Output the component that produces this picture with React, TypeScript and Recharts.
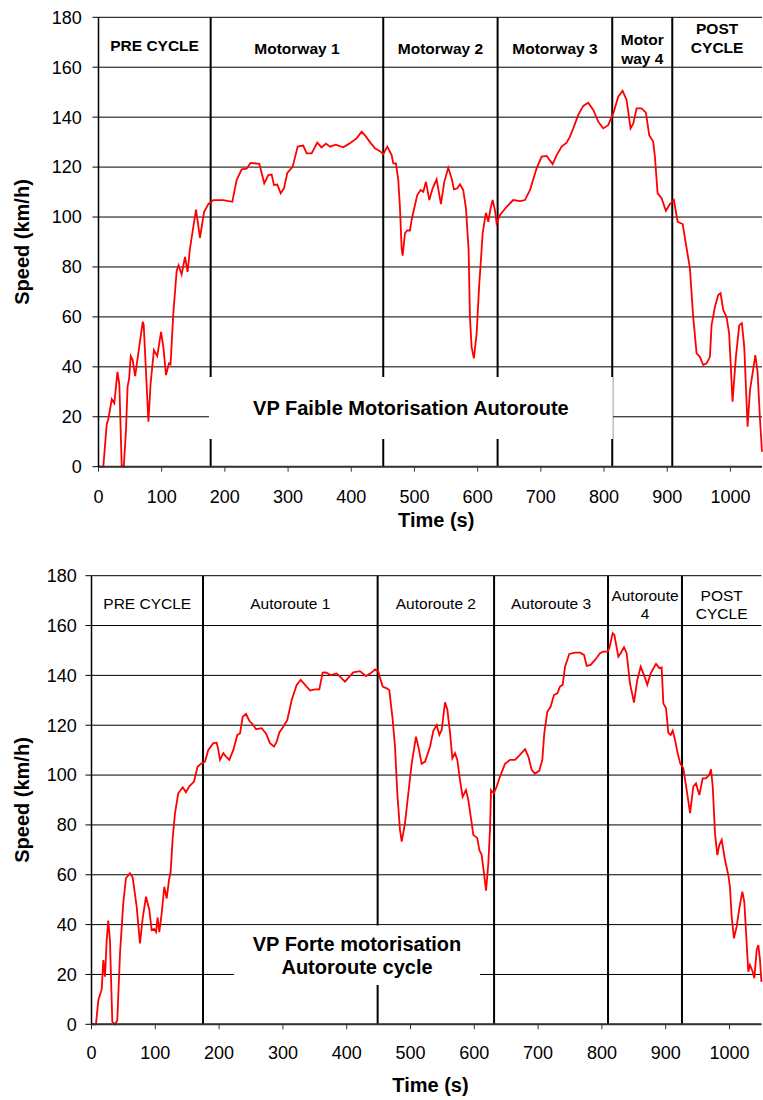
import React from 'react';
import {
  LineChart,
  Line,
  XAxis,
  YAxis,
  CartesianGrid,
  ReferenceLine,
  ReferenceArea,
  Label,
} from 'recharts';

const FONT = '"Liberation Sans", Arial, Helvetica, sans-serif';

// ---------- Chart 1: VP Faible Motorisation (low power car) ----------
const lowTime = [
  0, 7.6, 13, 15.5, 21, 25, 30, 33, 36.7, 40, 43.5, 46, 48.5, 51, 54, 58, 63, 70, 71.5, 79,
  82.5, 87.7, 93, 99, 102.6, 106.8, 111.5, 114, 118.4, 123.7, 126.8, 131.6, 136.9, 141, 144.8,
  154.3, 160.6, 167, 173.8, 181.7, 197.5, 211.7, 218.6, 226.6, 234.4, 240.8, 254.5, 262.3,
  268.7, 274, 277.7, 283, 288.3, 293.5, 298.8, 307.2, 315.2, 324, 329.4, 337.3, 346.2, 353,
  360, 366.5, 375.3, 387.4, 396.8, 408.5, 416.4, 421.6, 429.6, 437.5, 445.4, 450.6, 457,
  463.9, 466.5, 470.7, 474.4, 477, 479.7, 481.3, 485, 488.5, 492.8, 495.5, 500.8, 504.5,
  509.8, 514, 518.2, 523.5, 528.8, 535.1, 541.9, 547.2, 553.5, 558.8, 562.5, 567.8, 572,
  577.2, 581.5, 584, 585.7, 587.8, 590.4, 594.1, 598.4, 602.6, 605.2, 607.9, 613.1, 616.8,
  620.5, 623.7, 627.4, 630, 635.3, 645.9, 656.3, 667, 674.8, 682.8, 693.3, 701.3, 709.2,
  718.7, 725, 733, 740.8, 746.1, 751.3, 759.2, 767.1, 775, 783, 790.8, 798.7, 806.6, 814.6,
  822.5, 829.4, 835.7, 842, 846.3, 851.6, 859.5, 866.3, 871.5, 877.8, 880.5, 884.8, 891.1,
  897.9, 904.3, 910.6, 916.5, 924.4, 930.7, 935.9, 941.1, 946.5, 951.7, 957, 962.3, 967.6,
  970.2, 975.5, 980.7, 984.4, 988.6, 993.9, 998, 1003.4, 1008.7, 1014, 1018.2, 1021.9,
  1027.2, 1031, 1035.1, 1039.4, 1043, 1046.7, 1050,
];
const lowSpeed = [
  0, 0, 17, 19, 27, 25.4, 38, 33, 0.5, 0, 14.7, 32, 35.4, 44.3, 42.8, 36.3, 45.4, 58, 57, 18,
  33.4, 46.7, 44.3, 54, 48, 36.7, 41.4, 41, 61.4, 78.5, 80.7, 77, 84, 78, 87.5,
  103, 91.7, 102, 105.2, 106.8, 106.8, 106.1, 114.8, 119.1, 119.4, 121.7, 121.3, 113.5,
  116.8, 117, 112.8, 113, 109.5, 111.5, 117.7, 120.1, 128.2, 128.6, 125.5, 125.5, 129.8, 127.9,
  129.4, 128.2, 129, 127.9, 129.4, 131.5, 134.2, 132.8, 130, 127.5, 126.4, 125.2, 128.2,
  124.8, 121.5, 121.5, 114.8, 104.1, 87.5, 84.5, 93.5, 94.6, 94.6, 98.8, 104.8, 108.8,
  110.8, 110.1, 114.1, 106.8, 111.5, 115.1, 105.2, 114.1, 119.7, 115.5, 111.1, 111.5, 113.1,
  110.8, 103.5, 93.5, 86.8, 60, 48, 43.4, 53.4, 73.4, 82.8, 93.5, 101.7, 98.1,
  103.5, 106.8, 102.8, 97.5, 100.8, 104.1, 106.8, 106.4, 106.8, 110.8, 119.5, 124.2, 124.5,
  121.2, 124.8, 128.2, 129.8, 132.2, 135.5, 140.9, 144.5, 145.8, 142.9, 138.2, 135.5, 136.8, 141.5,
  148.2, 150.6, 146.9, 135.5, 137.5, 143.5, 143.5, 141.8, 132.8, 130.2, 124.2, 109.5, 107.5,
  102.5, 105.2, 106.8, 98.1, 97.2, 87.5, 79.5, 60, 45.4, 44, 40.7, 41.4, 44,
  56.7, 64, 68.8, 69.5, 62.8, 60, 53.4, 26, 44, 56.7, 57.5, 48,
  16, 30.7, 37.4, 44.7, 38, 19.4, 6,
];

// ---------- Chart 2: VP Forte motorisation (high power car) ----------
const highTime = [
  0, 7, 10.7, 16, 18.5, 21.2, 23.8, 26.3, 28.9, 32.6, 36.8, 40.4, 44.7, 49.8, 54, 60.3, 64.5,
  70.8, 76, 80.2, 85.4, 90.6, 94.3, 98, 101.1, 103.7, 106.3, 110, 114.1, 117.9, 121.5, 124.1,
  127.2, 130.9, 136, 142.9, 148.1, 153.3, 160.7, 166.4, 172.7, 177.9, 183.1, 190.9, 196.2,
  198.8, 201.4, 206.6, 210.8, 216, 222.3, 228.6, 232.8, 237, 242.2, 247.4, 253.6, 257.8,
  266.7, 273.5, 279.8, 286, 290.3, 294.4, 300.6, 306.9, 313.8, 321.6, 327.9, 334.8, 342.5,
  350.3, 357.1, 362.3, 367.5, 374.9, 384.3, 390.6, 397.3, 404.2, 410.4, 420.8, 430.3, 437.5,
  444.4, 449.6, 452.2, 456.4, 462.7, 466.8, 472.1, 475.7, 479.3, 483.5, 486.2, 491.4, 496.6,
  501.9, 508.6, 512.3, 517.5, 522.8, 530.6, 535.8, 541.1, 545.2, 548.9, 554.1, 557.8, 562,
  565.6, 569.7, 573.4, 577.6, 581.7, 587, 590.6, 595.9, 598.4, 604.7, 607.9, 611.5, 615.2,
  618.4, 622, 624.6, 626.2, 630.6, 635.1, 640.3, 648.1, 656, 663.8, 671.6, 679.5, 684.7, 690,
  695.1, 701.9, 706.6, 709.7, 714.4, 719.6, 724.9, 730.1, 734.3, 738.5, 742.2, 748.9, 757.8,
  765.7, 772, 776.2, 782.4, 789.2, 797, 802.2, 809, 811.6, 816.9, 819.5, 825.8, 829.4, 834.6,
  838.8, 844, 850.3, 855.5, 860.8, 866, 871.2, 876.5, 884.8, 890, 893.7, 896.3, 900.5, 904.1,
  907.8, 911, 914.6, 918.8, 923, 927.6, 932.9, 938.2, 943.3, 947.5, 952.7, 958, 963.2, 968.4,
  971, 973.7, 977.3, 980.9, 984, 987.8, 993, 998.1, 1000.7, 1003.4, 1007, 1011.2, 1015.4,
  1020.1, 1023.2, 1026.9, 1029.5, 1032.1, 1036.3, 1038.9, 1042.6, 1045.2, 1047.8, 1050,
];
const highSpeed = [
  0, 0, 9.7, 14, 25.8, 19.1, 33.8, 41.6, 33.8, 1, 0, 1.5, 28.5, 48.6, 58.6, 60.6, 59,
  47.2, 32.5, 42.5, 51.2, 46, 37.8, 38.3, 37, 42.8, 37, 44.5, 55.2, 50.5, 57.9, 61.2,
  74.6, 84.7, 92.7, 95.1, 93.1, 95.5, 97.4, 103.4, 104.7, 105.4, 110.1, 112.8, 113,
  110.1, 106.1, 108.8, 107.4, 106.1, 110.1, 116.1, 116.7, 123.4, 124.5, 121.8, 120.1, 118.4,
  118.8, 116.7, 112.8, 111.4, 113.4, 117.1, 119.4, 122.1, 130.1, 136.2, 138.2, 136.2, 133.9,
  134.4, 134.4, 141.1, 141.2, 140.1, 140.8, 139.2, 137.5, 139.5, 141.2, 141.7, 139.7, 140.8,
  142.4, 141.5, 139, 135.5, 134.8, 134.1, 122.1, 111.4, 92.7, 78, 73.3, 80.7, 92.7,
  104.7, 115.4, 111.4, 104.5, 105.4, 111.4, 117.8, 120.1, 116.1, 118.1, 129.2, 126.2, 116.8,
  106.7, 108.8, 106.1, 98, 91.3, 94, 90, 80.7, 76, 74.7, 69.9, 68, 60.6,
  53.6, 64.6, 78, 94, 92.7, 95.4, 99.4, 104.5, 106.1, 106.1, 108.1, 110.4, 107.4, 102.1,
  100.5, 101.8, 106.1, 116.8, 125.4, 127.4, 132.1, 132.8, 135.5, 136.2, 143.5, 148.6, 149.1,
  149.1, 148.2, 143.8, 144.2, 146.2, 148.9, 149.5, 149.5, 150.9, 156.9, 156.3, 147.5, 148.9, 151.3,
  148.9, 136.8, 129.1, 138.2, 143.5, 140.1, 136.2, 140.8, 144.6, 142.9, 143.2, 128.8, 126.8, 117,
  116.1, 117.8, 114.1, 108.7, 104.5, 102.8, 94, 84.7, 95.4, 96.7, 92, 98.7, 98.7, 100.1,
  102.3, 95.4, 76.5, 67.9, 71.9, 74, 65.9, 59.9, 55.2, 43.2, 34.5, 39.2, 46.5,
  53.2, 49.1, 32.5, 21.1, 23.8, 21.1, 18.5, 29.8, 31.8, 25.8, 17,
];

// ---------- Axes ----------
const xTicks = [0, 100, 200, 300, 400, 500, 600, 700, 800, 900, 1000];
const yTicks = [0, 20, 40, 60, 80, 100, 120, 140, 160, 180];

// ---------- Phases ----------
const lowPhaseEdges = [0, 177.5, 450.6, 631.6, 813, 908, 1050];
const lowPhaseLabels = [
  ['PRE CYCLE'],
  ['Motorway 1'],
  ['Motorway 2'],
  ['Motorway 3'],
  ['Motor', 'way 4'],
  ['POST', 'CYCLE'],
];
const highPhaseEdges = [0, 174.8, 448.5, 631, 809.6, 925.5, 1050];
const highPhaseLabels = [
  ['PRE CYCLE'],
  ['Autoroute 1'],
  ['Autoroute 2'],
  ['Autoroute 3'],
  ['Autoroute', '4'],
  ['POST', 'CYCLE'],
];

// ---------- Annotation boxes ----------
const lowBoxTime = [174.8, 814];
const lowBoxSpeed = [11.1, 35.9];
const lowBoxText = ['VP Faible Motorisation Autoroute'];
const highBoxTime = [223.4, 609];
const highBoxSpeed = [15.8, 39.6];
const highBoxText = ['VP Forte motorisation', 'Autoroute cycle'];

// layout-only: vertical shift of each phase label from the header band centre
const lowPhaseShift = [3.5, 6, 6, 6, 6.5, -4];
const highPhaseShift = [2.7, 2.7, 2.7, 2.7, 3.6, 3.6];

type Cfg = {
  height: number;
  top: number;
  right: number;
  yAxisWidth: number;
  xAxisHeight: number;
  xTickMargin: number;
  yTickMargin: number;
  phaseBold: boolean;
  phaseSize: number;
  phaseSpacing: number;
  phaseShift: number[];
  xLabelOffset: number;
  xLabelDx: number;
  xLabelSize: number;
  yLabelX: number;
};

function multiLine(
  lines: string[],
  fontSize: number,
  bold: boolean,
  shift: number,
  spacing: number
) {
  return (props: any) => {
    const vb = props.viewBox || {};
    const cx = vb.x + vb.width / 2;
    const cy = vb.y + vb.height / 2 + shift;
    const n = lines.length;
    return (
      <text
        textAnchor="middle"
        fontFamily={FONT}
        fontSize={fontSize}
        fontWeight={bold ? 'bold' : 'normal'}
        fill="#000"
      >
        {lines.map((l, i) => (
          <tspan key={i} x={cx} y={cy + (i - (n - 1) / 2) * spacing + 0.36 * fontSize}>
            {l}
          </tspan>
        ))}
      </text>
    );
  };
}

function SpeedChart(props: {
  times: number[];
  speeds: number[];
  edges: number[];
  phaseLabels: string[][];
  boxTime: number[];
  boxSpeed: number[];
  boxText: string[];
  cfg: Cfg;
}) {
  const { times, speeds, edges, phaseLabels, boxTime, boxSpeed, boxText, cfg } = props;
  const data = times.map((t, i) => ({ t, v: speeds[i] }));
  const tickStyle = { fontFamily: FONT, fontSize: 18, fill: '#000' };
  return (
    <LineChart
      width={763}
      height={cfg.height}
      data={data}
      margin={{ top: cfg.top, right: cfg.right, bottom: 0, left: 0 }}
    >
      <CartesianGrid vertical={false} stroke="#000" strokeWidth={1} />
      <XAxis
        type="number"
        dataKey="t"
        domain={[0, 1050]}
        ticks={xTicks}
        interval={0}
        height={cfg.xAxisHeight}
        tickSize={5}
        tickMargin={cfg.xTickMargin}
        tick={tickStyle}
        axisLine={{ stroke: '#333', strokeWidth: 2 }}
        tickLine={{ stroke: '#333' }}
      >
        <Label
          content={(p: any) => {
            const vb = p.viewBox || {};
            const cx = vb.x + vb.width / 2 + cfg.xLabelDx;
            const y = vb.y + cfg.xLabelOffset + 0.36 * cfg.xLabelSize;
            return (
              <text
                x={cx}
                y={y}
                textAnchor="middle"
                fontFamily={FONT}
                fontWeight="bold"
                fontSize={cfg.xLabelSize}
                fill="#000"
              >
                Time (s)
              </text>
            );
          }}
        />
      </XAxis>
      <YAxis
        type="number"
        domain={[0, 180]}
        ticks={yTicks}
        interval={0}
        width={cfg.yAxisWidth}
        tickSize={6}
        tickMargin={cfg.yTickMargin}
        tick={tickStyle}
        axisLine={{ stroke: '#000', strokeWidth: 1.5 }}
        tickLine={{ stroke: '#000' }}
      >
        <Label
          content={(p: any) => {
            const vb = p.viewBox || {};
            const cy = vb.y + vb.height / 2;
            const x = cfg.yLabelX + 0.36 * 20;
            return (
              <text
                x={x}
                y={cy}
                transform={`rotate(-90, ${x}, ${cy})`}
                textAnchor="middle"
                fontFamily={FONT}
                fontWeight="bold"
                fontSize={20}
                fill="#000"
              >
                Speed (km/h)
              </text>
            );
          }}
        />
      </YAxis>
      {edges.slice(1, -1).map((x, i) => (
        <ReferenceLine key={'e' + i} x={x} stroke="#000" strokeWidth={2} />
      ))}
      {phaseLabels.map((lines, i) => (
        <ReferenceArea
          key={'p' + i}
          x1={edges[i]}
          x2={edges[i + 1]}
          y1={160}
          y2={180}
          fill="#fff"
          fillOpacity={0}
          strokeOpacity={0}
          label={multiLine(lines, cfg.phaseSize, cfg.phaseBold, cfg.phaseShift[i], cfg.phaseSpacing)}
        />
      ))}
      <ReferenceArea
        x1={boxTime[0]}
        x2={boxTime[1]}
        y1={boxSpeed[0]}
        y2={boxSpeed[1]}
        fill="#fff"
        fillOpacity={1}
        strokeOpacity={0}
        zIndex={600}
        label={multiLine(boxText, 20, true, 0, 23.4)}
      />
      <Line
        type="linear"
        dataKey="v"
        stroke="#ff0000"
        strokeWidth={1.8}
        dot={false}
        activeDot={false}
        isAnimationActive={false}
      />
    </LineChart>
  );
}

const lowCfg: Cfg = {
  height: 550,
  top: 17.3,
  right: 1,
  yAxisWidth: 98.5,
  xAxisHeight: 550 - 17.3 - 449.4,
  xTickMargin: 18.7,
  yTickMargin: 10.8,
  phaseBold: true,
  phaseSize: 15.5,
  phaseSpacing: 19,
  phaseShift: lowPhaseShift,
  xLabelOffset: 52.8,
  xLabelDx: 6,
  xLabelSize: 20,
  yLabelX: 22,
};

const highCfg: Cfg = {
  height: 542,
  top: 17.7,
  right: 1.6,
  yAxisWidth: 91.5,
  xAxisHeight: 542 - 17.7 - 448.6,
  xTickMargin: 17,
  yTickMargin: 8.8,
  phaseBold: false,
  phaseSize: 15.5,
  phaseSpacing: 18.3,
  phaseShift: highPhaseShift,
  xLabelOffset: 60.7,
  xLabelDx: 4,
  xLabelSize: 20,
  yLabelX: 22,
};

export default function App() {
  return (
    <div style={{ position: 'absolute', left: 0, top: 0, width: 763, height: 1100, background: '#fff' }}>
      <div style={{ position: 'absolute', left: 0, top: 0 }}>
        <SpeedChart
          times={lowTime}
          speeds={lowSpeed}
          edges={lowPhaseEdges}
          phaseLabels={lowPhaseLabels}
          boxTime={lowBoxTime}
          boxSpeed={lowBoxSpeed}
          boxText={lowBoxText}
          cfg={lowCfg}
        />
      </div>
      <div style={{ position: 'absolute', left: 0, top: 558 }}>
        <SpeedChart
          times={highTime}
          speeds={highSpeed}
          edges={highPhaseEdges}
          phaseLabels={highPhaseLabels}
          boxTime={highBoxTime}
          boxSpeed={highBoxSpeed}
          boxText={highBoxText}
          cfg={highCfg}
        />
      </div>
    </div>
  );
}
